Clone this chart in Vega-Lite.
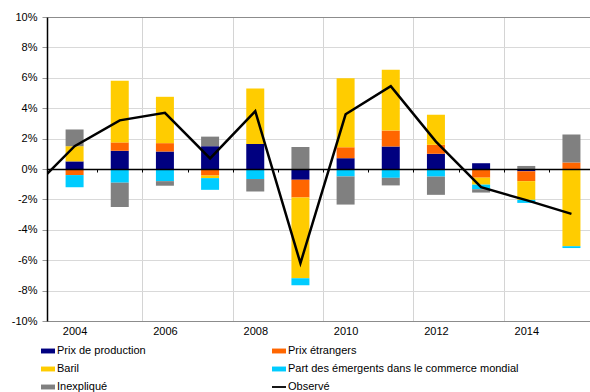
{
  "$schema": "https://vega.github.io/schema/vega-lite/v6.json",
  "width": 543,
  "height": 304,
  "autosize": {"type": "none"},
  "padding": {"left": 47, "top": 17, "right": 0, "bottom": 71},
  "config": {"view": {"stroke": null}, "font": "Liberation Sans", "axisY": {"labelOverlap": false}},
  "title": {
    "text": "Contribution à la hausse des prix mondiaux et évolution du commerce des pays",
    "anchor": "start",
    "frame": "group",
    "baseline": "alphabetic",
    "offset": 15,
    "dx": -39,
    "fontSize": 15,
    "fontWeight": "bold",
    "color": "#333399",
    "font": "Liberation Sans"
  },
  "datasets": {
    "bars": [
      {"year": 2004, "serie": "Prix de production", "value": 0.5},
      {"year": 2004, "serie": "Prix étrangers", "value": -0.4},
      {"year": 2004, "serie": "Baril", "value": 1.0},
      {"year": 2004, "serie": "Part des émergents dans le commerce mondial", "value": -0.8},
      {"year": 2004, "serie": "Inexpliqué", "value": 1.1},
      {"year": 2005, "serie": "Prix de production", "value": 1.2},
      {"year": 2005, "serie": "Prix étrangers", "value": 0.55},
      {"year": 2005, "serie": "Baril", "value": 4.05},
      {"year": 2005, "serie": "Part des émergents dans le commerce mondial", "value": -0.9},
      {"year": 2005, "serie": "Inexpliqué", "value": -1.6},
      {"year": 2006, "serie": "Prix de production", "value": 1.15},
      {"year": 2006, "serie": "Prix étrangers", "value": 0.55},
      {"year": 2006, "serie": "Baril", "value": 3.05},
      {"year": 2006, "serie": "Part des émergents dans le commerce mondial", "value": -0.8},
      {"year": 2006, "serie": "Inexpliqué", "value": -0.3},
      {"year": 2007, "serie": "Prix de production", "value": 1.5},
      {"year": 2007, "serie": "Prix étrangers", "value": -0.43},
      {"year": 2007, "serie": "Baril", "value": -0.17},
      {"year": 2007, "serie": "Part des émergents dans le commerce mondial", "value": -0.77},
      {"year": 2007, "serie": "Inexpliqué", "value": 0.63},
      {"year": 2008, "serie": "Prix de production", "value": 1.65},
      {"year": 2008, "serie": "Prix étrangers", "value": 0},
      {"year": 2008, "serie": "Baril", "value": 3.65},
      {"year": 2008, "serie": "Part des émergents dans le commerce mondial", "value": -0.66},
      {"year": 2008, "serie": "Inexpliqué", "value": -0.82},
      {"year": 2009, "serie": "Prix de production", "value": -0.7},
      {"year": 2009, "serie": "Prix étrangers", "value": -1.18},
      {"year": 2009, "serie": "Baril", "value": -5.3},
      {"year": 2009, "serie": "Part des émergents dans le commerce mondial", "value": -0.47},
      {"year": 2009, "serie": "Inexpliqué", "value": 1.45},
      {"year": 2010, "serie": "Prix de production", "value": 0.71},
      {"year": 2010, "serie": "Prix étrangers", "value": 0.72},
      {"year": 2010, "serie": "Baril", "value": 4.54},
      {"year": 2010, "serie": "Part des émergents dans le commerce mondial", "value": -0.49},
      {"year": 2010, "serie": "Inexpliqué", "value": -1.85},
      {"year": 2011, "serie": "Prix de production", "value": 1.48},
      {"year": 2011, "serie": "Prix étrangers", "value": 1.05},
      {"year": 2011, "serie": "Baril", "value": 4.0},
      {"year": 2011, "serie": "Part des émergents dans le commerce mondial", "value": -0.58},
      {"year": 2011, "serie": "Inexpliqué", "value": -0.5},
      {"year": 2012, "serie": "Prix de production", "value": 1.0},
      {"year": 2012, "serie": "Prix étrangers", "value": 0.59},
      {"year": 2012, "serie": "Baril", "value": 1.98},
      {"year": 2012, "serie": "Part des émergents dans le commerce mondial", "value": -0.5},
      {"year": 2012, "serie": "Inexpliqué", "value": -1.2},
      {"year": 2013, "serie": "Prix de production", "value": 0.38},
      {"year": 2013, "serie": "Prix étrangers", "value": -0.57},
      {"year": 2013, "serie": "Baril", "value": -0.46},
      {"year": 2013, "serie": "Part des émergents dans le commerce mondial", "value": -0.3},
      {"year": 2013, "serie": "Inexpliqué", "value": -0.22},
      {"year": 2014, "serie": "Prix de production", "value": -0.15},
      {"year": 2014, "serie": "Prix étrangers", "value": -0.65},
      {"year": 2014, "serie": "Baril", "value": -1.23},
      {"year": 2014, "serie": "Part des émergents dans le commerce mondial", "value": -0.2},
      {"year": 2014, "serie": "Inexpliqué", "value": 0.2},
      {"year": 2015, "serie": "Prix de production", "value": 0},
      {"year": 2015, "serie": "Prix étrangers", "value": 0.43},
      {"year": 2015, "serie": "Baril", "value": -5.08},
      {"year": 2015, "serie": "Part des émergents dans le commerce mondial", "value": -0.12},
      {"year": 2015, "serie": "Inexpliqué", "value": 1.84}
    ],
    "line": [
      {"year": 2003, "value": -1.5},
      {"year": 2004, "value": 1.5},
      {"year": 2005, "value": 3.2},
      {"year": 2006, "value": 3.7},
      {"year": 2007, "value": 0.7},
      {"year": 2008, "value": 3.8},
      {"year": 2009, "value": -6.2},
      {"year": 2010, "value": 3.6},
      {"year": 2011, "value": 5.45},
      {"year": 2012, "value": 1.8},
      {"year": 2013, "value": -1.2},
      {"year": 2014, "value": -2.05},
      {"year": 2015, "value": -2.95}
    ]
  },
  "resolve": {"axis": {"x": "independent"}},
  "layer": [
    {
      "data": {"name": "bars"},
      "transform": [
        {"calculate": "indexof(['Prix de production', 'Prix étrangers', 'Baril', 'Part des émergents dans le commerce mondial', 'Inexpliqué'], datum.serie)", "as": "k"}
      ],
      "mark": {"type": "bar", "width": 18},
      "encoding": {
        "x": {
          "field": "year",
          "type": "quantitative",
          "scale": {"domain": [2003.5, 2015.3], "nice": false, "zero": false},
          "axis": {
            "orient": "bottom",
            "title": null,
            "values": [2004, 2005.5, 2006, 2007.5, 2008, 2009.5, 2010, 2011.5, 2012, 2013.5, 2014],
            "labelExpr": "datum.value % 1 == 0 ? datum.value + '' : ''",
            "labelOverlap": false,
            "grid": true,
            "gridColor": "#d4d4d4",
            "gridOpacity": {"condition": {"test": "datum.value % 1 == 0", "value": 0}, "value": 1},
            "ticks": false,
            "domain": false,
            "labelFontSize": 11,
            "labelColor": "#000000",
            "labelPadding": 4,
            "labelFont": "Liberation Sans"
          }
        },
        "y": {
          "field": "value",
          "type": "quantitative",
          "stack": "zero",
          "scale": {"domain": [-10, 10], "nice": false},
          "axis": {
            "title": null,
            "values": [-10, -8, -6, -4, -2, 0, 2, 4, 6, 8, 10],
            "labelExpr": "datum.value + '%'",
            "labelOverlap": false,
            "grid": true,
            "gridColor": {"condition": {"test": "abs(datum.value) == 10", "value": "#8c8c8c"}, "value": "#d9d9d9"},
            "domainColor": "#000000",
            "domainWidth": 1.5,
            "tickColor": "#999999",
            "tickSize": 5,
            "labelPadding": 5,
            "labelFontSize": 11,
            "labelColor": "#000000",
            "labelFont": "Liberation Sans"
          }
        },
        "order": {"field": "k", "type": "quantitative", "sort": "ascending"},
        "color": {
          "field": "serie",
          "type": "nominal",
          "scale": {
            "domain": ["Prix de production", "Prix étrangers", "Baril", "Part des émergents dans le commerce mondial", "Inexpliqué", "Observé"],
            "range": ["#000080", "#FF6600", "#FFCC00", "#00CCFF", "#808080", "#000000"]
          },
          "legend": {
            "orient": "none",
            "legendX": -6,
            "legendY": 327,
            "direction": "horizontal",
            "columns": 2,
            "columnPadding": 126,
            "rowPadding": 6,
            "title": null,
            "symbolType": "M-1,-0.35H1V0.35H-1Z",
            "symbolSize": 196,
            "symbolStrokeWidth": 0,
            "labelOffset": 2,
            "labelFontSize": 11,
            "labelColor": "#000000",
            "labelFont": "Liberation Sans",
            "labelLimit": 400,
            "encode": {
              "symbols": {
                "update": {
                  "shape": {"signal": "datum.value == 'Observé' ? 'M-1,-0.13H1V0.13H-1Z' : 'M-1,-0.35H1V0.35H-1Z'"}
                }
              }
            }
          }
        }
      }
    },
    {
      "data": {"name": "line"},
      "mark": {"type": "line", "clip": true, "strokeWidth": 2.5, "color": "#000000"},
      "encoding": {
        "x": {
          "field": "year",
          "type": "quantitative",
          "axis": {
            "orient": "bottom",
            "offset": -152,
            "title": null,
            "labels": false,
            "grid": false,
            "values": [2004.5, 2005.5, 2006.5, 2007.5, 2008.5, 2009.5, 2010.5, 2011.5, 2012.5, 2013.5, 2014.5],
            "domainColor": "#000000",
            "domainWidth": 1.5,
            "tickColor": "#000000",
            "tickSize": 3,
            "zindex": 1
          }
        },
        "y": {
          "field": "value",
          "type": "quantitative",
          "axis": {
            "title": null,
            "values": [-10, -8, -6, -4, -2, 0, 2, 4, 6, 8, 10],
            "labelExpr": "datum.value + '%'",
            "labelOverlap": false,
            "grid": true,
            "gridColor": {"condition": {"test": "abs(datum.value) == 10", "value": "#8c8c8c"}, "value": "#d9d9d9"},
            "domainColor": "#000000",
            "domainWidth": 1.5,
            "tickColor": "#999999",
            "tickSize": 5,
            "labelPadding": 5,
            "labelFontSize": 11,
            "labelColor": "#000000",
            "labelFont": "Liberation Sans"
          }
        },
        "color": {"datum": "Observé"}
      }
    }
  ]
}
